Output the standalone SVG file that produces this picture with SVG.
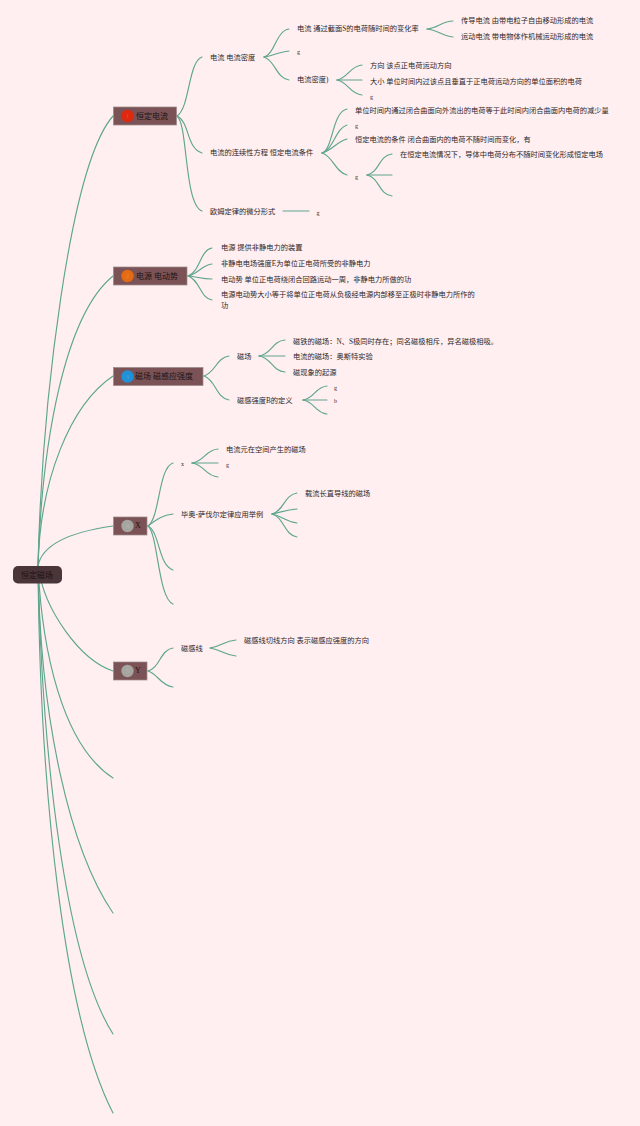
<svg xmlns="http://www.w3.org/2000/svg" width="640" height="1126" viewBox="0 0 640 1126">
<style>
text{font-family:"Liberation Serif","Noto Sans CJK SC",serif;font-size:7.25px;fill:#2e2526;dominant-baseline:central}
.m{font-size:8px;fill:#1e1214}
.g{font-size:6px}
.n{fill:#7b5356;stroke:#9a8a86;stroke-width:.7}
.d{font-size:7px;text-anchor:middle;fill:#fff;fill-opacity:.2}
#connectors path{fill:none;stroke:#5ea68b;stroke-width:1.15;stroke-linecap:round}
</style>
<rect width="640" height="1126" fill="#ffeff1"/>
<g id="connectors">
<path d="M38 566C42 400 70 165 113 116"/>
<path d="M38 566C42 440 65 315 113 276"/>
<path d="M38 566C40 480 70 405 113 376"/>
<path d="M38 566C42 545 70 532 113 526"/>
<path d="M38 566C44 610 80 660 113 671"/>
<path d="M38 566C42 650 62 745 113 778"/>
<path d="M38 566C40 720 70 850 113 913"/>
<path d="M38 566C42 760 66 960 113 1034"/>
<path d="M38 566C40 800 65 1020 113 1113"/>
<path d="M177 116C190 108 188 62 202 57"/>
<path d="M177 116C190 122 186 148 202 153"/>
<path d="M177 116C188 124 184 204 202 211"/>
<path d="M264 57C275 54 276 31 289 29"/>
<path d="M264 57C272 56 278 52 289 51"/>
<path d="M264 57C275 60 276 78 289 80"/>
<path d="M337 80C348 78 350 66 362 65"/>
<path d="M337 80H362"/>
<path d="M337 80C348 82 350 94 362 95"/>
<path d="M427 29C438 28 442 21 453 21"/>
<path d="M427 29C438 30 442 36 453 37"/>
<path d="M322 153C333 150 332 112 347 109"/>
<path d="M322 153C333 150 336 128 347 125"/>
<path d="M322 153C333 150 336 142 347 139"/>
<path d="M322 153C333 156 335 172 347 175"/>
<path d="M367 175C380 172 378 156 392 154"/>
<path d="M367 175H392"/>
<path d="M367 175C380 178 378 194 392 196"/>
<path d="M283 211H309"/>
<path d="M188 276C200 272 200 250 212 248"/>
<path d="M188 276C198 274 202 265 212 264"/>
<path d="M188 276C198 277 202 279 212 279"/>
<path d="M188 276C200 280 200 298 212 300"/>
<path d="M204 376C216 372 216 358 229 356"/>
<path d="M204 376C216 380 216 398 229 400"/>
<path d="M259 356C272 354 272 341 285 340"/>
<path d="M259 356H285"/>
<path d="M259 356C272 358 272 371 285 372"/>
<path d="M303 400C315 398 315 387 327 386"/>
<path d="M303 400H327"/>
<path d="M303 400C315 402 315 413 327 414"/>
<path d="M148 526C160 518 158 468 173 463"/>
<path d="M148 526C156 520 162 515 173 514"/>
<path d="M148 526C160 532 158 565 173 570"/>
<path d="M148 526C158 534 158 598 173 604"/>
<path d="M192 463C205 461 205 450 218 449"/>
<path d="M192 463H218"/>
<path d="M192 463C205 465 205 476 218 477"/>
<path d="M272 514C284 511 284 495 297 493"/>
<path d="M272 514C282 512 286 510 297 509"/>
<path d="M272 514C282 516 286 522 297 523"/>
<path d="M272 514C284 517 284 535 297 537"/>
<path d="M148 671C160 668 160 650 173 648"/>
<path d="M148 671C158 674 160 685 173 687"/>
<path d="M210 648C222 646 224 641 236 640"/>
<path d="M210 648C222 650 224 655 236 656"/>
</g>
<g id="root"><rect x="13" y="566" width="49" height="17.500" rx="5" fill="#4a3539"/><text class="m" x="21" y="575">恒定磁场</text></g>
<g id="n1"><rect class="n" x="113.500" y="107" width="63" height="18"/><circle cx="127.500" cy="116" r="6.200" fill="#e0280e"/><text class="d" x="127.500" y="116">1</text><text class="m" x="136" y="116">恒定电流</text></g>
<g id="n2"><rect class="n" x="113.500" y="267" width="73.500" height="18"/><circle cx="127.500" cy="276" r="6.200" fill="#e56a12"/><text class="d" x="127.500" y="276">2</text><text class="m" x="136" y="276">电源 电动势</text></g>
<g id="n3"><rect class="n" x="113.500" y="367.500" width="89.500" height="18"/><circle cx="127.500" cy="376.500" r="6.200" fill="#2090d8"/><text class="d" x="127.500" y="376.500">3</text><text class="m" x="135" y="376.500">磁场 磁感应强度</text></g>
<g id="n4"><rect class="n" x="113.500" y="517" width="33.500" height="18"/><circle cx="127.500" cy="526" r="6.200" fill="#a7a5a0"/><text class="d" x="127.500" y="526">4</text><text class="m" x="135" y="525.500">X</text></g>
<g id="n5"><rect class="n" x="113.500" y="662" width="33.500" height="18"/><circle cx="127.500" cy="671" r="6.200" fill="#a7a5a0"/><text class="d" x="127.500" y="671">5</text><text class="m" x="135" y="670.500">Y</text></g>
<g id="t1">
<text x="210" y="58">电流 电流密度</text>
<text x="297" y="29">电流 通过截面S的电荷随时间的变化率</text>
<text class="g" x="297" y="52">g</text>
<text x="297" y="80">电流密度)</text>
<text x="461" y="21">传导电流 由带电粒子自由移动形成的电流</text>
<text x="461" y="37">运动电流 带电物体作机械运动形成的电流</text>
<text x="370" y="66">方向 该点正电荷运动方向</text>
<text x="370" y="81.500">大小 单位时间内过该点且垂直于正电荷运动方向的单位面积的电荷</text>
<text class="g" x="370" y="96.500">g</text>
<text x="210" y="153">电流的连续性方程 恒定电流条件</text>
<text x="355" y="110.500">单位时间内通过闭合曲面向外流出的电荷等于此时间内闭合曲面内电荷的减少量</text>
<text class="g" x="355" y="126">g</text>
<text x="355" y="139.500">恒定电流的条件 闭合曲面内的电荷不随时间而变化，有</text>
<text class="g" x="355" y="176.500">g</text>
<text x="400" y="155">在恒定电流情况下，导体中电荷分布不随时间变化形成恒定电场</text>
<text x="210" y="212">欧姆定律的微分形式</text>
<text class="g" x="316.500" y="213">g</text>
</g>
<g id="t2">
<text x="221" y="248">电源 提供非静电力的装置</text>
<text x="221" y="264">非静电电场强度E为单位正电荷所受的非静电力</text>
<text x="221" y="279.500">电动势 单位正电荷绕闭合回路运动一周，非静电力所做的功</text>
<text x="221" y="295">电源电动势大小等于将单位正电荷从负极经电源内部移至正极时非静电力所作的</text>
<text x="221" y="305.500">功</text>
</g>
<g id="t3">
<text x="237" y="357">磁场</text>
<text x="293" y="341.500">磁铁的磁场：N、S极同时存在；同名磁极相斥，异名磁极相吸。</text>
<text x="293" y="357">电流的磁场：奥斯特实验</text>
<text x="293" y="372.500">磁现象的起源</text>
<text x="237" y="400.500">磁感强度B的定义</text>
<text class="g" x="334" y="388">g</text>
<text class="g" x="334" y="400.500">b</text>
</g>
<g id="t4">
<text class="g" x="181" y="464">x</text>
<text x="226" y="449.500">电流元在空间产生的磁场</text>
<text class="g" x="226" y="465">g</text>
<text x="181" y="515">毕奥-萨伐尔定律应用举例</text>
<text x="305" y="494">载流长直导线的磁场</text>
<text x="181" y="649">磁感线</text>
<text x="244" y="641">磁感线切线方向 表示磁感应强度的方向</text>
</g>
</svg>
